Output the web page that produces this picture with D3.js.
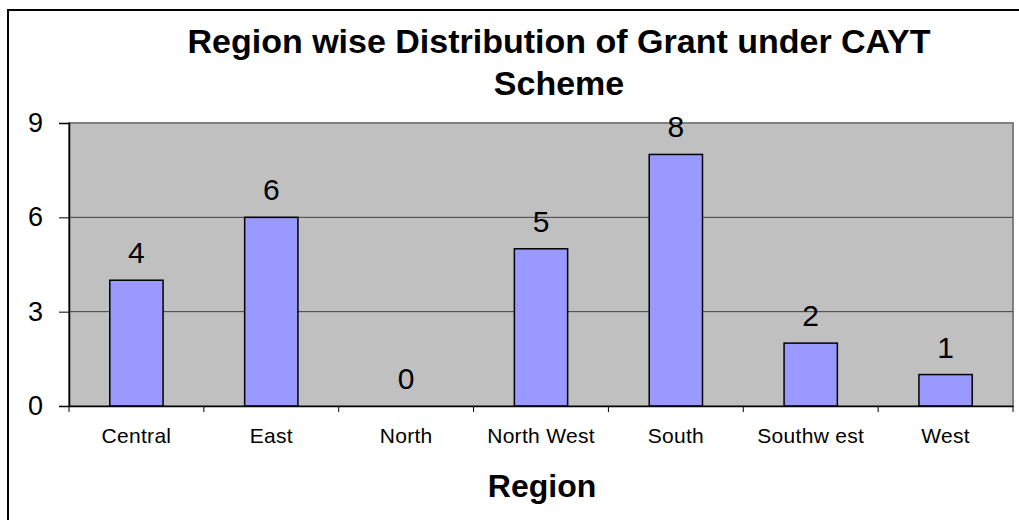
<!DOCTYPE html>
<html>
<head>
<meta charset="utf-8">
<script src="https://cdn.jsdelivr.net/npm/d3@7"></script>
<style>
  body { margin: 0; background: #fff; }
  text { font-family: "Liberation Sans", Arial, sans-serif; fill: #000; }
</style>
</head>
<body>
<script>
// chart data
var regions = ["Central", "East", "North", "North West", "South", "Southwest", "West"];
var grants = [4, 6, 0, 5, 8, 2, 1];
var yTicks = [0, 3, 6, 9];
var titleLines = ["Region wise Distribution of Grant under CAYT", "Scheme"];

var W = 1019, H = 520;
var margin = {top: 123, right: 6, bottom: 114, left: 69};
var width = W - margin.left - margin.right,
    height = H - margin.top - margin.bottom;

var svg = d3.select("body").append("svg")
  .attr("width", W)
  .attr("height", H);

// outer frame (only top and left edges visible)
svg.append("path")
  .attr("d", "M8," + H + "V10H" + W)
  .attr("fill", "none")
  .attr("stroke", "#000")
  .attr("stroke-width", 2);

// title
svg.selectAll(".title")
  .data(titleLines)
  .enter().append("text")
  .attr("x", 559)
  .attr("y", function(d, i) { return 53 + i * 42; })
  .attr("text-anchor", "middle")
  .attr("font-size", "34px")
  .attr("font-weight", "bold")
  .text(function(d) { return d; });

var g = svg.append("g")
  .attr("transform", "translate(" + margin.left + "," + margin.top + ")");

var x = d3.scaleBand().domain(regions).range([0, width]).paddingInner(0).paddingOuter(0);
var y = d3.scaleLinear().domain([0, 9]).range([height, 0]);

// plot area
g.append("rect")
  .attr("width", width)
  .attr("height", height)
  .attr("fill", "#c0c0c0")
  .attr("stroke", "#808080")
  .attr("stroke-width", 2);

// gridlines
g.selectAll(".grid")
  .data(yTicks.filter(function(t) { return t > 0 && t < 9; }))
  .enter().append("line")
  .attr("x1", 0).attr("x2", width)
  .attr("y1", function(d) { return y(d); })
  .attr("y2", function(d) { return y(d); })
  .attr("stroke", "#404040")
  .attr("stroke-width", 1);

// bars
var barW = x.bandwidth() * 0.395;
g.selectAll(".bar")
  .data(grants)
  .enter().append("rect")
  .attr("x", function(d, i) { return x(regions[i]) + x.bandwidth() / 2 - barW / 2; })
  .attr("y", function(d) { return y(d); })
  .attr("width", barW)
  .attr("height", function(d) { return height - y(d); })
  .attr("fill", "#9999ff")
  .attr("stroke", "#000")
  .attr("stroke-width", 1.5);

// data labels
g.selectAll(".lbl")
  .data(grants)
  .enter().append("text")
  .attr("x", function(d, i) { return x(regions[i]) + x.bandwidth() / 2; })
  .attr("y", function(d) { return y(d) - 17; })
  .attr("text-anchor", "middle")
  .attr("font-size", "30px")
  .text(function(d) { return d; });

// y axis
var yAxis = g.append("g")
  .call(d3.axisLeft(y).tickValues(yTicks).tickSize(10).tickPadding(16));
yAxis.select(".domain").attr("stroke", "#000").attr("stroke-width", 1.5);
yAxis.selectAll(".tick line").attr("stroke", "#000");
yAxis.selectAll(".tick text")
  .attr("font-size", "27px")
  .attr("font-family", "Liberation Sans, Arial, sans-serif");

// x axis
var xAxis = g.append("g")
  .attr("transform", "translate(0," + height + ")")
  .call(d3.axisBottom(x).tickSize(0).tickPadding(22));
xAxis.select(".domain").attr("stroke", "#000").attr("stroke-width", 1.5);
xAxis.selectAll(".tick text")
  .attr("font-size", "21px")
  .attr("letter-spacing", "0.3px")
  .attr("font-family", "Liberation Sans, Arial, sans-serif")
  .text(function(d) { return d === "Southwest" ? "Southw est" : d; });

// category boundary ticks
g.selectAll(".xtick")
  .data(d3.range(regions.length + 1))
  .enter().append("line")
  .attr("x1", function(i) { return i * x.step(); })
  .attr("x2", function(i) { return i * x.step(); })
  .attr("y1", height)
  .attr("y2", height + 6)
  .attr("stroke", "#000");

// x axis title
svg.append("text")
  .attr("x", 542)
  .attr("y", 497)
  .attr("text-anchor", "middle")
  .attr("font-size", "32px")
  .attr("font-weight", "bold")
  .text("Region");
</script>
</body>
</html>
